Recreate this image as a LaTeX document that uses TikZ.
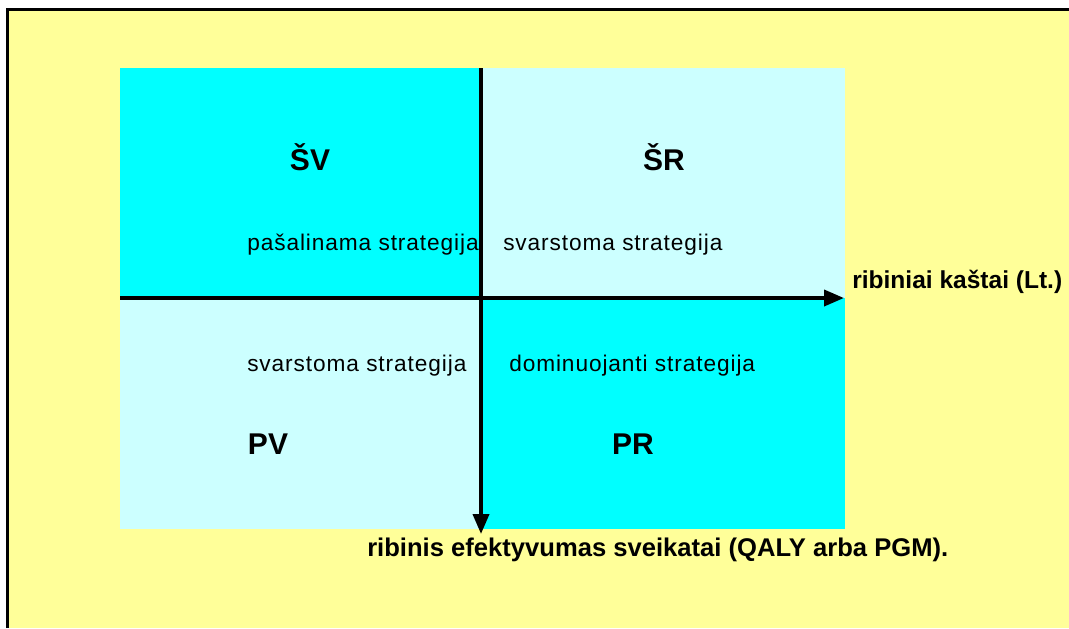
\documentclass[tikz,border=0pt]{standalone}
\usepackage{fontspec}
\setmainfont{Liberation Sans}
\newfontfamily\spacedfont[LetterSpace=4]{Liberation Sans}
\usetikzlibrary{arrows.meta}
\definecolor{bgyellow}{HTML}{FFFF99}
\definecolor{cyanfull}{HTML}{00FFFF}
\definecolor{cyanpale}{HTML}{CCFFFF}

\begin{document}
\begin{tikzpicture}[x=0.75pt,y=-0.75pt,>={Triangle[length=15pt,width=12pt]},
  quad/.style={font=\bfseries\fontsize{22.5}{27}\selectfont,inner sep=0pt,anchor=base},
  note/.style={font=\spacedfont\fontsize{17}{20}\selectfont,inner sep=0pt,anchor=base west},
  axislabel/.style={font=\bfseries\fontsize{18.4}{22}\selectfont,inner sep=0pt,anchor=base west},
  axis/.style={line width=2.8pt,->}]
  \useasboundingbox (0,0) rectangle (1069,628);
  % page
  \fill[white] (0,0) rectangle (1069,628);
  \fill[bgyellow] (7.5,9.5) rectangle (1069,628);
  \draw[line width=2.25pt] (7.5,628) -- (7.5,9.5) -- (1069,9.5);
  % quadrants
  \coordinate (o) at (481,298);
  \fill[cyanfull] (120,68) rectangle (o);
  \fill[cyanpale] (o) rectangle (845,68);
  \fill[cyanpale] (120,529) rectangle (o);
  \fill[cyanfull] (o) rectangle (845,529);
  % axes
  \coordinate (xs) at (120,298); \coordinate (xe) at (844,298);
  \coordinate (ys) at (481,68);  \coordinate (ye) at (481,534);
  \draw[axis] (xs) -- (xe);
  \draw[axis] (ys) -- (ye);
  % quadrant labels
  \node[quad] (sv) at (310,170) {ŠV};
  \node[quad] (sr) at (664,170) {ŠR};
  \node[quad] (pv) at (268,454) {PV};
  \node[quad] (pr) at (633,454) {PR};
  \node[note] (elim) at (247,250) {pašalinama strategija};
  \node[note] (consa) at (503,250) {svarstoma strategija};
  \node[note] (consb) at (247,371) {svarstoma strategija};
  \node[note] (dom) at (509,371) {dominuojanti strategija};
  % axis labels
  \node[axislabel] (cost) at (852,288) {ribiniai kaštai (Lt.)};
  \node[axislabel,font=\bfseries\fontsize{19.2}{23}\selectfont] (eff) at (367,556)
    {ribinis efektyvumas sveikatai (QALY arba PGM).};
\end{tikzpicture}
\end{document}
